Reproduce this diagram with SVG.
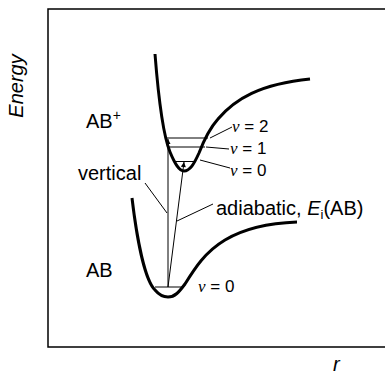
<svg xmlns="http://www.w3.org/2000/svg" width="385" height="376" viewBox="0 0 385 376">
<defs>
<marker id="ah" viewBox="0 0 10 10" refX="10" refY="5" markerWidth="7" markerHeight="5" markerUnits="userSpaceOnUse" orient="auto">
<path d="M0,0 L10,5 L0,10 z" fill="#000"/>
</marker>
<style>
.t{font-family:"Liberation Sans",Arial,sans-serif;font-size:20px;fill:#000}
.v{font-family:"Liberation Sans",Arial,sans-serif;font-size:17px;fill:#000}
.nu{font-family:"Liberation Serif","Times New Roman",serif;font-style:italic}
.curve{fill:none;stroke:#000;stroke-width:3}
.thin{fill:none;stroke:#000;stroke-width:1}
</style>
</defs>
<rect width="385" height="376" fill="#fff"/>
<path d="M385,9 H48 V347 H385" fill="none" stroke="#000" stroke-width="1.5"/>
<text class="t" font-size="19" font-style="italic" text-anchor="middle" transform="translate(23,86) rotate(-90)">Energy</text>
<text class="t" font-size="19" font-style="italic" x="333" y="371">r</text>
<g id="upper-curve">
<path class="curve" d="M155,54 C159,105 163,135 170,152 C175,164 179,171 184,171 C190,171 194,164 199,153 C204,140 210,128 218,119 C235,99 260,84 310,79"/>
<line class="thin" x1="166" y1="138" x2="208" y2="138"/>
<line class="thin" x1="168" y1="147" x2="205" y2="147"/>
<line class="thin" x1="176" y1="161.5" x2="195" y2="161.5"/>
<text class="t" x="86" y="128">AB<tspan font-size="14" dy="-8">+</tspan></text>
</g>
<g id="lower-curve">
<path class="curve" d="M132,198 C137,240 145,280 155,290 C160,296 164,297 168,297 C175,297 179,292 185,284 C195,268 205,252 225,240 C245,228 270,223 297,222"/>
<line class="thin" x1="155" y1="287" x2="183" y2="287"/>
<text class="t" x="86" y="277">AB</text>
</g>
<g id="labels">
<line class="thin" x1="210" y1="138" x2="232" y2="127"/>
<text class="v" x="232" y="132"><tspan class="nu">ν</tspan> = 2</text>
<line class="thin" x1="206" y1="147" x2="229" y2="149"/>
<text class="v" x="230" y="154"><tspan class="nu">ν</tspan> = 1</text>
<line class="thin" x1="200" y1="160" x2="230" y2="168"/>
<text class="v" x="230" y="176"><tspan class="nu">ν</tspan> = 0</text>
<text class="v" x="198" y="292"><tspan class="nu">ν</tspan> = 0</text>
<text class="t" x="78" y="180">vertical</text>
<text class="t" x="216" y="215">adiabatic, <tspan font-style="italic">E</tspan><tspan font-size="13" dy="4">i</tspan><tspan dy="-4">(AB)</tspan></text>
</g>
<g id="connectors">
<line class="thin" x1="168" y1="287" x2="168" y2="139" marker-end="url(#ah)"/>
<line class="thin" x1="168" y1="287" x2="184" y2="162" marker-end="url(#ah)"/>
<line class="thin" x1="145" y1="183" x2="167" y2="213"/>
<line class="thin" x1="213" y1="204" x2="177" y2="221"/>
</g>
</svg>
